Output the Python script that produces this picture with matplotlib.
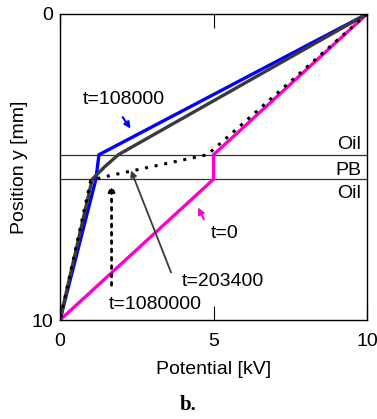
import matplotlib
matplotlib.use('Agg')
from matplotlib import pyplot as plt

plt.rcParams['font.family'] = ['Liberation Sans', 'DejaVu Sans']

# layer boundaries [mm]
pb_top = 4.6
pb_bottom = 5.4

# potential profiles: (potential [kV], position [mm])
t0_v = [10, 5.0, 5.0, 0]
t0_y = [0, 4.6, 5.4, 10]
t108000_v = [10, 1.27, 1.17, 0]
t108000_y = [0, 4.6, 5.4, 10]
t203400_v = [10, 1.9, 1.45, 1.05, 0]
t203400_y = [0, 4.6, 5.0, 5.4, 10]
t1080000_v = [10, 4.8, 1.4, 1.0, 0]
t1080000_y = [0, 4.6, 5.33, 5.45, 10]


def main():
    fig = plt.figure(figsize=(3.77, 4.19), dpi=100)
    ax = fig.add_axes([0.159, 0.236, 0.815, 0.731])

    # layer lines
    ax.axhline(pb_top, color='#333333', linewidth=0.9)
    ax.axhline(pb_bottom, color='#333333', linewidth=0.9)

    ax.plot(t0_v, t0_y, color='#ff00cc', linewidth=2.4, solid_joinstyle='miter')
    ax.plot(t108000_v, t108000_y, color='#0000ff', linewidth=2.4, solid_joinstyle='miter')
    ax.plot(t203400_v, t203400_y, color='#3a3a3a', linewidth=2.4)
    ax.plot(t1080000_v, t1080000_y, color='black', linewidth=2.2, linestyle=(0, (1, 2.2)))

    # labels and arrows
    fs = 14
    ax.text(0.75, 2.81, 't=108000', fontsize=fs, va='center')
    ax.annotate('', xy=(2.35, 3.82), xytext=(1.99, 3.3),
                arrowprops=dict(arrowstyle='-|>', color='#0000ff', lw=1.5, mutation_scale=9))
    ax.text(4.9, 7.16, 't=0', fontsize=fs, va='center')
    ax.annotate('', xy=(4.46, 6.24), xytext=(4.72, 6.79),
                arrowprops=dict(arrowstyle='-|>', color='#ff00cc', lw=1.5, mutation_scale=9))
    ax.text(3.97, 8.75, 't=203400', fontsize=fs, va='center')
    ax.annotate('', xy=(2.28, 5.03), xytext=(3.65, 8.53),
                arrowprops=dict(arrowstyle='-|>', color='#3a3a3a', lw=1.3, mutation_scale=9))
    ax.text(1.6, 9.5, 't=1080000', fontsize=fs, va='center')
    ax.annotate('', xy=(1.68, 5.49), xytext=(1.68, 8.95),
                arrowprops=dict(arrowstyle='-|>', color='black', lw=2.0, linestyle=(0, (1, 2)),
                                mutation_scale=9))

    ax.text(9.8, 4.28, 'Oil', fontsize=fs, ha='right', va='center')
    ax.text(9.8, 5.12, 'PB', fontsize=fs, ha='right', va='center')
    ax.text(9.8, 5.85, 'Oil', fontsize=fs, ha='right', va='center')

    ax.set_xlim(0, 10)
    ax.set_ylim(10, 0)
    ax.set_xticks([0, 5, 10])
    ax.set_yticks([0, 10])
    ax.tick_params(axis='x', direction='in', length=10, width=0.8, top=True, labelsize=fs, pad=9)
    ax.tick_params(axis='y', direction='in', length=0, labelsize=fs, pad=5)
    ax.set_xlabel('Potential [kV]', fontsize=fs, labelpad=8)
    ax.set_ylabel('Position y [mm]', fontsize=fs, labelpad=2)
    for spine in ax.spines.values():
        spine.set_linewidth(1.0)

    fig.text(0.5, 0.033, 'b.', fontsize=15, fontweight='bold', family='Liberation Serif',
             ha='center', va='center')

    fig.savefig('out.png', dpi=100)


if __name__ == '__main__':
    main()
